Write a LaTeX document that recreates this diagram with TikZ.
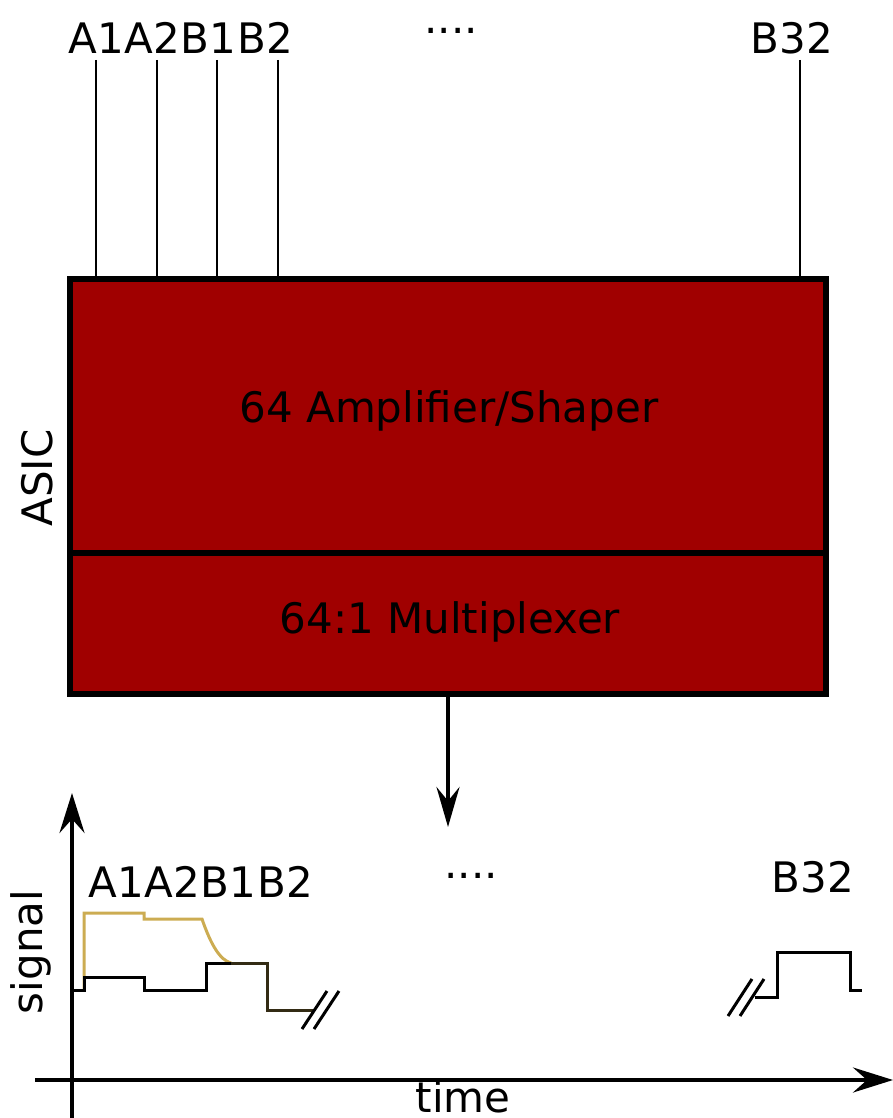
\documentclass[tikz,border=0pt]{standalone}
\usepackage{fontspec}
\setmainfont{DejaVu Sans}
\usepackage{xcolor}
\usepackage{tikz}
\usetikzlibrary{arrows.meta,positioning}
\definecolor{chipred}{RGB}{160,0,0}
\definecolor{trailgold}{RGB}{204,172,82}

\begin{document}
\begin{tikzpicture}[x=0.5pt,y=-0.5pt,
    lbl/.style={inner sep=0pt,font=\fontsize{21}{25}\selectfont},
    chip/.style={draw,line width=3.3pt,fill=chipred,outer sep=0pt,minimum width=378pt},
    pin/.style={line width=1.1pt},
    axis/.style={line width=2pt,-{Stealth[length=20pt,width=12.5pt,inset=7pt]}},
    sig/.style={line width=1.5pt},
    brk/.style={line width=1.5pt}]
  \useasboundingbox (0,0) rectangle (893,1118);
  % chip
  \node[chip,minimum height=137pt] (amp) at (448,416) {};
  \node[chip,minimum height=70.5pt,anchor=north] (mux) at (amp.south) {};
  \node[lbl,anchor=base] (amptxt) at (449,422) {64 Amplifier/Shaper};
  \node[lbl,anchor=base] (muxtxt) at (450,633) {64:1 Multiplexer};
  \node[lbl,rotate=90] (asic) at (37,478) {ASIC};
  % inputs
  \node[lbl,anchor=base west] (a1) at (68,54) {A1};
  \node[lbl,anchor=base west] (a2) at (a1.base east) {A2};
  \node[lbl,anchor=base west] (b1) at (a2.base east) {B1};
  \node[lbl,anchor=base west] (b2) at (b1.base east) {B2};
  \node[lbl,anchor=base] (topdots) at (451,34) {....};
  \node[lbl,anchor=base] (b32) at (792,54) {B32};
  \foreach \x in {96,157,217,278,800}
    \draw[pin] (\x,60) -- (\x,60 |- amp.north);
  \draw[line width=2pt,-{Stealth[length=20pt,width=11.5pt,inset=7pt]}] (mux.south) -- ++(0,133);
  % output
  \draw[axis] (72,1118) -- (72,793);
  \draw[axis] (35,1080) -- (893,1080);
  \node[lbl,anchor=base] (time) at (463,1112) {time};
  \node[lbl,rotate=90] (signal) at (31,952) {signal};
  \node[lbl,anchor=base west] (oa1) at (88,897) {A1};
  \node[lbl,anchor=base west] (oa2) at (oa1.base east) {A2};
  \node[lbl,anchor=base west] (ob1) at (oa2.base east) {B1};
  \node[lbl,anchor=base west] (ob2) at (ob1.base east) {B2};
  \node[lbl,anchor=base] (botdots) at (471,878) {....};
  \node[lbl,anchor=base] (ob32) at (813,892) {B32};
  \draw[sig,trailgold] (84,990) -- (84,913) -- (144,913) -- (144,919) -- (202,919)
    .. controls (211,945) and (220,960) .. (231,963);
  \draw[sig] (71,990) -- (84,990) -- (84,977) -- (144,977) -- (144,990) -- (206,990)
    -- (206,963) -- (267,963) -- (267,1010) -- (313,1010);
  \draw[sig,trailgold,opacity=0.25] (231,963) -- (267,963) -- (267,1010) -- (313,1010);
  \draw[brk] (302,1029) -- (327,991);
  \draw[brk] (314,1029) -- (339,991);
  \draw[brk] (728,1016) -- (752,979);
  \draw[brk] (740,1016) -- (764,979);
  \draw[sig] (755,997) -- (777,997) -- (777,952) -- (850,952) -- (850,990) -- (862,990);
\end{tikzpicture}
\end{document}
